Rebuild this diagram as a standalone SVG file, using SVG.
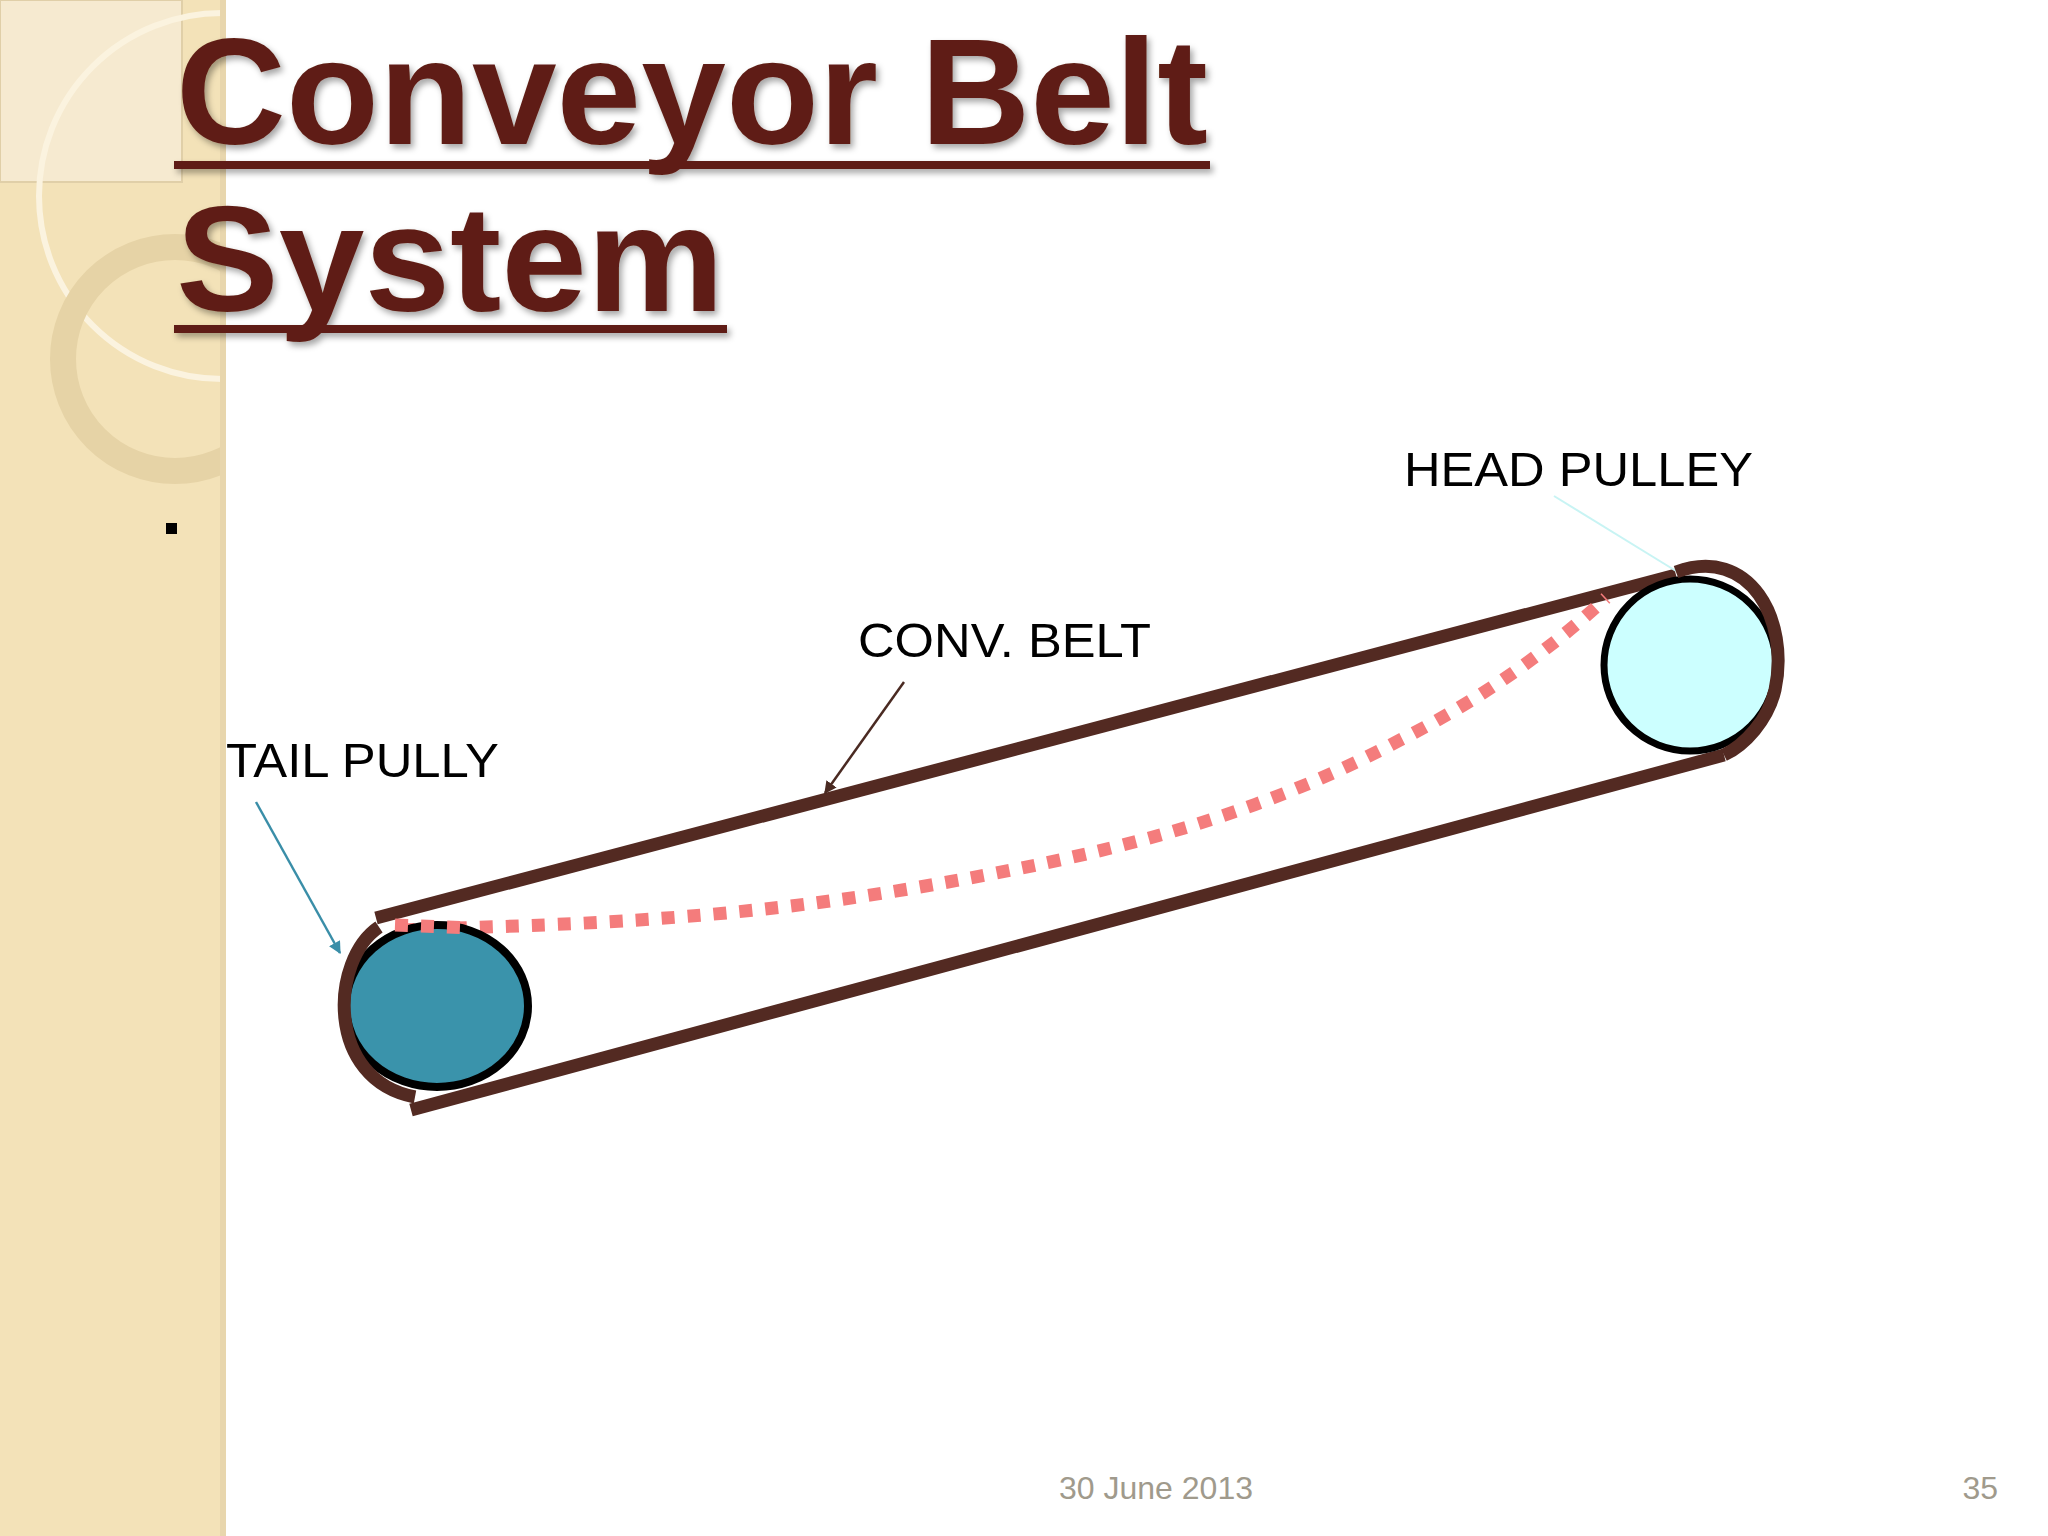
<svg xmlns="http://www.w3.org/2000/svg" width="2048" height="1536" viewBox="0 0 2048 1536">
<defs>
<clipPath id="strip"><rect x="0" y="0" width="226" height="1536"/></clipPath>
<marker id="ah" viewBox="0 0 10 10" refX="9" refY="5" markerWidth="5" markerHeight="5" orient="auto"><path d="M0,0 L10,5 L0,10 z" fill="context-stroke"/></marker>
<filter id="sh" x="-5%" y="-5%" width="110%" height="120%"><feDropShadow dx="3" dy="4" stdDeviation="3" flood-color="#000" flood-opacity="0.35"/></filter>
</defs>
<style>
.lbl{font-family:"Liberation Sans",Arial,sans-serif;font-size:49px;fill:#000}
.ttl{font-family:"Liberation Sans",Arial,sans-serif;font-weight:bold;font-size:150px;fill:#5e1e14}
.foot{font-family:"Liberation Sans",Arial,sans-serif;font-size:32px;fill:#a09a8c}
.belt{fill:none;stroke:#532a22;stroke-width:13}
</style>
<rect width="2048" height="1536" fill="#fff"/>
<g id="strip-bg" clip-path="url(#strip)">
<rect width="226" height="1536" fill="#f3e2b8"/>
<rect x="0" y="0" width="182" height="182" fill="#f6ead0" stroke="#e0cfa8" stroke-width="2"/>
<circle cx="222" cy="196" r="183" fill="none" stroke="#fbf3df" stroke-width="6"/>
<circle cx="175" cy="359" r="112" fill="none" stroke="#e6d3a6" stroke-width="26"/>
<rect x="220" y="0" width="6" height="1536" fill="#e8d6ad"/>
</g>
<g id="title" filter="url(#sh)">
<text class="ttl" x="176" y="144" textLength="1032" lengthAdjust="spacingAndGlyphs">Conveyor Belt</text>
<rect x="174" y="161" width="1036" height="8" fill="#5e1e14"/>
<text class="ttl" x="176" y="311" textLength="548" lengthAdjust="spacingAndGlyphs">System</text>
<rect x="174" y="325" width="553" height="8" fill="#5e1e14"/>
</g>
<rect id="bullet" x="166" y="523" width="11" height="11" fill="#000"/>
<g id="connectors">
<line class="belt" x1="376" y1="918" x2="1676" y2="575"/>
<line class="belt" x1="411" y1="1110" x2="1724" y2="755"/>
<path d="M402,930 C520,925 700,925 914,888 C1100,856 1250,820 1400,740 C1480,700 1550,650 1606,598" fill="none" stroke="#f47c7c" stroke-width="13" stroke-dasharray="13 13"/>
<line x1="904" y1="682" x2="825" y2="793" stroke="#4a2a22" stroke-width="2.5" marker-end="url(#ah)"/>
<line x1="256" y1="802" x2="340" y2="953" stroke="#3a8ea8" stroke-width="2.5" marker-end="url(#ah)"/>
<line x1="1554" y1="496" x2="1676" y2="571" stroke="#c8f4f4" stroke-width="2"/>
</g>
<g id="tail-pulley">
<ellipse cx="437" cy="1006" rx="91" ry="81" fill="#3a93ab" stroke="#000" stroke-width="8"/>
<path d="M379,927 C330,960 325,1080 415,1097" fill="none" stroke="#532a22" stroke-width="13"/>
<line x1="395" y1="925" x2="470" y2="928" stroke="#f47c7c" stroke-width="13" stroke-dasharray="13 13"/>
</g>
<g id="head-pulley">
<circle cx="1690" cy="665" r="86" fill="#ccffff" stroke="#000" stroke-width="7"/>
<path d="M1676,572 C1750,545 1790,620 1775,690 C1768,720 1745,745 1724,755" fill="none" stroke="#532a22" stroke-width="13"/>
</g>
<text class="lbl" x="1404" y="486" textLength="349" lengthAdjust="spacingAndGlyphs">HEAD PULLEY</text>
<text class="lbl" x="858" y="657" textLength="293" lengthAdjust="spacingAndGlyphs">CONV. BELT</text>
<text class="lbl" x="226" y="777" textLength="273" lengthAdjust="spacingAndGlyphs">TAIL PULLY</text>
<text class="foot" x="1156" y="1499" text-anchor="middle">30 June 2013</text>
<text class="foot" x="1998" y="1499" text-anchor="end">35</text>
</svg>
